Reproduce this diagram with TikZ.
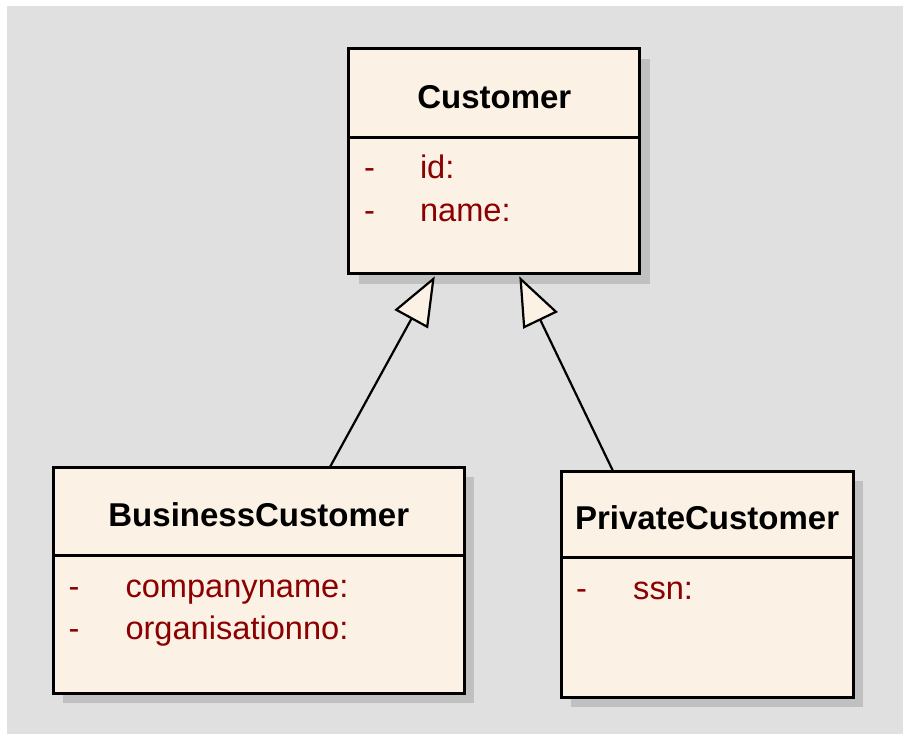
\documentclass[tikz,border=0pt]{standalone}
\usepackage{fontspec}
\setmainfont{Liberation Sans}
\usetikzlibrary{arrows.meta,calc,shadows}
\definecolor{canvas}{RGB}{224,224,224}
\definecolor{classfill}{RGB}{251,241,228}
\definecolor{shade}{RGB}{192,192,192}
\definecolor{attrred}{RGB}{139,0,0}
\begin{document}
\begin{tikzpicture}[x=1pt,y=-1pt,
  classbox/.style={draw=black, line width=3pt, fill=classfill, rectangle,
    inner sep=0pt, outer sep=0pt, anchor=north west,
    drop shadow={shadow xshift=10pt, shadow yshift=-10pt, opacity=1, fill=shade}},
  divider/.style={draw=black, line width=3pt},
  classtitle/.style={font=\fontsize{33}{36}\selectfont\bfseries, anchor=base, inner sep=0pt},
  attrtext/.style={font=\fontsize{32.6}{36}\selectfont, text=attrred, anchor=base west, inner sep=0pt},
  gen/.style={draw=black, line width=2.2pt,
    -{Triangle[length=49pt,width=38pt,fill=classfill]}}]

% canvas
\useasboundingbox (0,0) rectangle (903,734);
\fill[white] (0,0) rectangle (903,734);
\fill[canvas] (7,6) rectangle (903,734);

% Customer
\node[classbox, minimum width=291pt, minimum height=225pt] (cust) at (348.8,48.8) {};
\draw[divider] ($(cust.north west)+(0,89)$) -- ($(cust.north east)+(0,89)$);
\node[classtitle] (custT) at ($(cust.north)+(0,60)$) {Customer};
\node[attrtext] (custD1) at ($(cust.north west)+(15,130)$) {-};
\node[attrtext] (custA1) at ($(cust.north west)+(71,130)$) {id:};
\node[attrtext] (custD2) at ($(cust.north west)+(15,173)$) {-};
\node[attrtext] (custA2) at ($(cust.north west)+(71,173)$) {name:};

% BusinessCustomer
\node[classbox, minimum width=411pt, minimum height=226.3pt] (bus) at (53.3,467) {};
\draw[divider] ($(bus.north west)+(0,88.2)$) -- ($(bus.north east)+(0,88.2)$);
\node[classtitle] (busT) at ($(bus.north)+(0,59)$) {BusinessCustomer};
\node[attrtext] (busD1) at ($(bus.north west)+(15,130)$) {-};
\node[attrtext] (busA1) at ($(bus.north west)+(72,130)$) {companyname:};
\node[attrtext] (busD2) at ($(bus.north west)+(15,172.5)$) {-};
\node[attrtext] (busA2) at ($(bus.north west)+(72,172.5)$) {organisationno:};

% PrivateCustomer
\node[classbox, minimum width=292.3pt, minimum height=226.3pt] (priv) at (561,471) {};
\draw[divider] ($(priv.north west)+(0,86.7)$) -- ($(priv.north east)+(0,86.7)$);
\node[classtitle] (privT) at ($(priv.north)+(0,58)$) {PrivateCustomer};
\node[attrtext] (privD1) at ($(priv.north west)+(15,128)$) {-};
\node[attrtext] (privA1) at ($(priv.north west)+(72,128)$) {ssn:};

% generalisation connectors
\coordinate (busUp) at ($(bus.north west)+(276.7,0)$);
\coordinate (privUp) at ($(priv.north west)+(52,0)$);
\coordinate (custL) at ($(cust.south west)+(86,2.5)$);
\coordinate (custR) at ($(cust.south west)+(170.5,2.5)$);
\draw[gen] (busUp) -- (custL);
\draw[gen] (privUp) -- (custR);
\end{tikzpicture}
\end{document}
